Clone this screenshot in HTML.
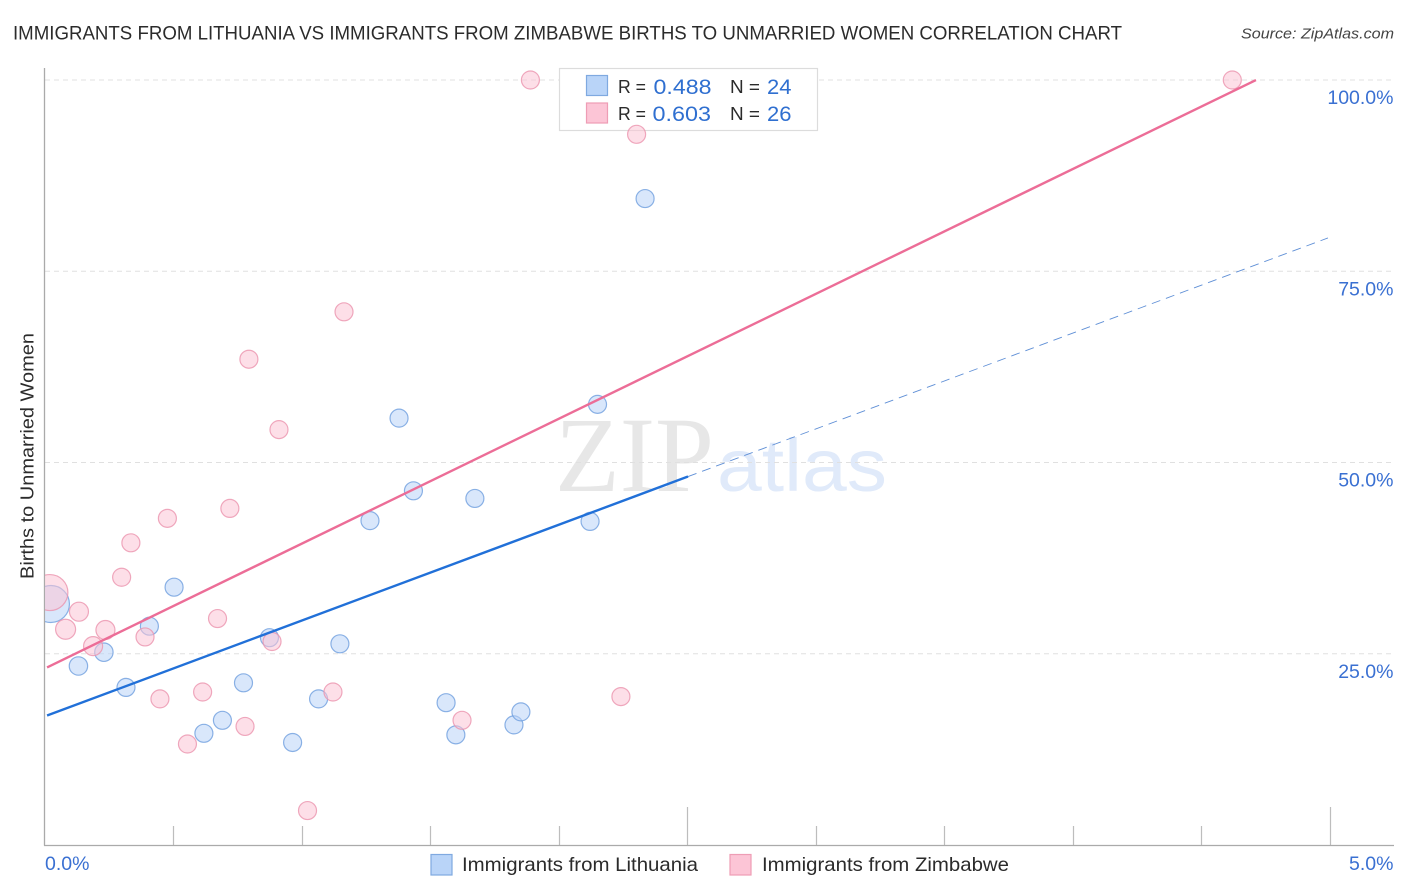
<!DOCTYPE html>
<html lang="en">
<head>
<meta charset="utf-8">
<title>Immigrants from Lithuania vs Immigrants from Zimbabwe Births to Unmarried Women Correlation Chart</title>
<style>
html,body{margin:0;padding:0;background:#fff;}
svg{display:block;}
text{font-family:"Liberation Sans",sans-serif;}
</style>
</head>
<body>
<svg id="chart" xmlns="http://www.w3.org/2000/svg" width="1406" height="892" viewBox="0 0 1406 892">
  <defs>
    <clipPath id="plot-clip"><rect x="45" y="60" width="1349" height="785"/></clipPath>
  </defs>
  <rect x="0" y="0" width="1406" height="892" fill="#fff"/>
  <text x="13" y="39.5" font-size="19" fill="#2b2b2b" textLength="1109" lengthAdjust="spacingAndGlyphs">IMMIGRANTS FROM LITHUANIA VS IMMIGRANTS FROM ZIMBABWE BIRTHS TO UNMARRIED WOMEN CORRELATION CHART</text>
  <text x="1241" y="38.5" font-size="15" font-style="italic" fill="#444" textLength="153" lengthAdjust="spacingAndGlyphs">Source: ZipAtlas.com</text>

  <text x="555" y="491" font-size="107" fill="#e7e7e7" style="font-family:'Liberation Serif',serif" textLength="159" lengthAdjust="spacingAndGlyphs">ZIP</text>
  <text x="717" y="491" font-size="74" fill="#e0eafa" textLength="170" lengthAdjust="spacingAndGlyphs">atlas</text>

  <g id="grid"></g>
  <g id="x-ticks"></g>
  <line x1="44.5" y1="68" x2="44.5" y2="845.5" stroke="#aaa" stroke-width="1.3"/>
  <line x1="44" y1="845.5" x2="1394" y2="845.5" stroke="#aaa" stroke-width="1.3"/>
  <g id="y-labels"></g>
  <g id="x-labels"></g>
  <text transform="translate(33.5,579) rotate(-90)" font-size="18.5" fill="#2b2b2b" textLength="246" lengthAdjust="spacingAndGlyphs">Births to Unmarried Women</text>

  <g>
    <rect x="559.5" y="68.5" width="258" height="62" fill="#fff" stroke="#dcdcdc" stroke-width="1.2"/>
    <rect x="586.5" y="75.5" width="21" height="20" fill="#b9d4f8" stroke="#7fa9e0" stroke-width="1.2"/>
    <rect x="586.5" y="103" width="21" height="20" fill="#fcc5d6" stroke="#ee9db5" stroke-width="1.2"/>
    <text x="618" y="93" font-size="18.5" fill="#2b2b2b" textLength="28" lengthAdjust="spacingAndGlyphs">R =</text>
    <text x="653.5" y="94" font-size="21" fill="#2f6fd0" textLength="58" lengthAdjust="spacingAndGlyphs">0.488</text>
    <text x="730" y="93" font-size="18.5" fill="#2b2b2b" textLength="30" lengthAdjust="spacingAndGlyphs">N =</text>
    <text x="767" y="94" font-size="21" fill="#2f6fd0" textLength="24.5" lengthAdjust="spacingAndGlyphs">24</text>
    <text x="618" y="120" font-size="18.5" fill="#2b2b2b" textLength="28" lengthAdjust="spacingAndGlyphs">R =</text>
    <text x="652.5" y="121" font-size="21" fill="#2f6fd0" textLength="58.5" lengthAdjust="spacingAndGlyphs">0.603</text>
    <text x="730" y="120" font-size="18.5" fill="#2b2b2b" textLength="30" lengthAdjust="spacingAndGlyphs">N =</text>
    <text x="767" y="121" font-size="21" fill="#2f6fd0" textLength="24.5" lengthAdjust="spacingAndGlyphs">26</text>
  </g>

  <g id="points" clip-path="url(#plot-clip)"></g>
  <g id="trends"></g>

  <g>
    <rect x="431" y="854.5" width="21" height="20.5" fill="#b9d4f8" stroke="#7fa9e0" stroke-width="1.2"/>
    <text x="462" y="871" font-size="19.5" fill="#2b2b2b" textLength="236" lengthAdjust="spacingAndGlyphs">Immigrants from Lithuania</text>
    <rect x="730" y="854.5" width="21" height="20.5" fill="#fcc5d6" stroke="#ee9db5" stroke-width="1.2"/>
    <text x="762" y="871" font-size="19.5" fill="#2b2b2b" textLength="247" lengthAdjust="spacingAndGlyphs">Immigrants from Zimbabwe</text>
  </g>
</svg>
<script>
// X values are percent on the 0-5 axis, Y values are percent on the 0-100 axis.
var lithuaniaX = [0.025, 0.132, 0.231, 0.317, 0.408, 0.504, 0.62, 0.692, 0.774, 0.875, 0.965, 1.066, 1.149, 1.266, 1.379, 1.435, 1.562, 1.6, 1.674, 1.826, 1.853, 2.122, 2.151, 2.336];
var lithuaniaY = [31.5, 23.4, 25.2, 20.6, 28.6, 33.7, 14.6, 16.3, 21.2, 27.1, 13.4, 19.1, 26.3, 42.4, 55.8, 46.3, 18.6, 14.4, 45.3, 15.7, 17.4, 42.3, 57.6, 84.5];
var lithuaniaSize = [18.5, 9.2, 9.2, 9, 9, 9, 9, 9, 9, 9, 9, 9, 9, 9, 9, 9, 9, 9, 9, 9, 9, 9, 9, 9];

var zimbabweX = [0.021, 0.134, 0.082, 0.237, 0.189, 0.391, 0.3, 0.336, 0.478, 0.449, 0.556, 0.615, 0.673, 0.721, 0.78, 0.795, 0.885, 0.912, 1.122, 1.023, 1.165, 1.624, 1.89, 2.242, 2.303, 4.62];
var zimbabweY = [33.0, 30.5, 28.2, 28.1, 26.0, 27.2, 35.0, 39.5, 42.7, 19.1, 13.2, 20.0, 29.6, 44.0, 15.5, 63.5, 26.6, 54.3, 20.0, 4.5, 69.7, 16.3, 100, 19.4, 92.9, 100];
var zimbabweSize = [18, 9.5, 10, 9.5, 9.5, 9, 9, 9, 9, 9, 9, 9, 9, 9, 9, 9, 9, 9, 9, 9, 9, 9, 9, 9, 9, 9];

var lithuaniaTrend = [16.8, 12.53];   // intercept, slope
var zimbabweTrend = [23.05, 16.33];   // intercept, slope
var lithuaniaTrendRange = [0.01, 2.503, 4.992]; // start, solid end, dashed end
var zimbabweTrendRange = [0.01, 4.712];

var yTicks = [25, 50, 75, 100];
var yTickLabels = ['25.0%', '50.0%', '75.0%', '100.0%'];
var xMinorTicks = [0.5, 1, 1.5, 2, 2.5, 3, 3.5, 4, 4.5, 5];
var xEndLabels = ['0.0%', '5.0%'];

function xScale(v) { return 44.5 + v * 257.1; }
function yScale(v) { return 845 - v * 7.65; }

var NS = 'http://www.w3.org/2000/svg';
function make(tag, parent, attrs) {
  var el = document.createElementNS(NS, tag);
  for (var k in attrs) el.setAttribute(k, attrs[k]);
  parent.appendChild(el);
  return el;
}

var gridG = document.getElementById('grid');
var yLabelG = document.getElementById('y-labels');
yTicks.forEach(function (t, i) {
  var y = yScale(t);
  var line = make('line', gridG, { x1: 45, x2: 1394, y1: y, y2: y, stroke: '#e0e0e0', 'stroke-width': 1, 'stroke-dasharray': '5 4' });
  
  
  var label = make('text', yLabelG, { x: 1393.5, y: y + 24, 'font-size': 19.5, fill: '#3a70d2', 'text-anchor': 'end' });
  
  
  label.textContent = yTickLabels[i];
});

var tickG = document.getElementById('x-ticks');
xMinorTicks.forEach(function (t) {
  var x = Math.round(xScale(t)) + 0.5;
  var top = (t === 2.5 || t === 5) ? 807 : 826;
  var tick = make('line', tickG, { x1: x, x2: x, y1: top, y2: 845, stroke: '#bdbdbd', 'stroke-width': 1.2 });
  
  
});

var xLabelG = document.getElementById('x-labels');
var xl0 = make('text', xLabelG, { x: 45, y: 870, 'font-size': 19.5, fill: '#3a70d2' });


xl0.textContent = xEndLabels[0];
var xl1 = make('text', xLabelG, { x: 1393.5, y: 870, 'font-size': 19.5, fill: '#3a70d2', 'text-anchor': 'end' });


xl1.textContent = xEndLabels[1];

var pointsG = document.getElementById('points');
function drawPoints(xs, ys, sizes, fill, stroke, name) {
  xs.forEach(function (v, i) {
    var c = make('circle', pointsG, { cx: xScale(v), cy: yScale(ys[i]), r: sizes[i], fill: fill, 'fill-opacity': 0.55, stroke: stroke, 'stroke-opacity': 0.8, 'stroke-width': 1.2 });
    
    
  });
}
drawPoints(lithuaniaX, lithuaniaY, lithuaniaSize, '#b9d4f8', '#6f9fdf', 'point-lithuania');
drawPoints(zimbabweX, zimbabweY, zimbabweSize, '#fcc5d6', '#eb94ae', 'point-zimbabwe');

var trendsG = document.getElementById('trends');
function trendLine(trend, x0, x1, stroke, width, dash, name) {
  var attrs = {
    x1: xScale(x0), y1: yScale(trend[0] + trend[1] * x0),
    x2: xScale(x1), y2: yScale(trend[0] + trend[1] * x1),
    stroke: stroke, 'stroke-width': width, 'stroke-linecap': 'butt'
  };
  if (dash) attrs['stroke-dasharray'] = dash;
  var l = make('line', trendsG, attrs);
  
  
}
trendLine(lithuaniaTrend, lithuaniaTrendRange[1], lithuaniaTrendRange[2], '#5f8fd6', 0.9, '9 6', 'trend-lithuania-projection');
trendLine(lithuaniaTrend, lithuaniaTrendRange[0], lithuaniaTrendRange[1], '#2170d8', 2.4, '', 'trend-lithuania');
trendLine(zimbabweTrend, zimbabweTrendRange[0], zimbabweTrendRange[1], '#ec6d97', 2.4, '', 'trend-zimbabwe');
</script>
</body>
</html>
